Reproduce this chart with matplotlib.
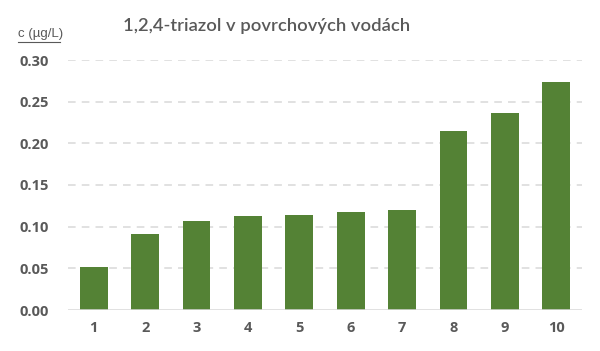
import numpy as np
import matplotlib
matplotlib.use('Agg')
import matplotlib.pyplot as plt

categories = ['1', '2', '3', '4', '5', '6', '7', '8', '9', '10']
values = [0.052, 0.091, 0.107, 0.113, 0.114, 0.118, 0.120, 0.215, 0.236, 0.274]
yticks = [0.00, 0.05, 0.10, 0.15, 0.20, 0.25, 0.30]

green = '#548235'
grey_text = '#595959'

fig = plt.figure(figsize=(6.0, 3.51), dpi=100)
ax = fig.add_axes([68 / 600, 1 - 310 / 351, (582 - 68) / 600, 250 / 351])

x = np.arange(len(categories))
ax.bar(x, values, width=0.54, color=green, zorder=3)

ax.set_xlim(-0.5, len(categories) - 0.5)
ax.set_ylim(0, 0.30)
ax.set_yticks(yticks)
ax.set_yticklabels([f'{v:.2f}' for v in yticks])
ax.set_xticks(x)
ax.set_xticklabels(categories)

for v in yticks[1:]:
    ax.axhline(v, color='#d9d9d9', linewidth=1.1, linestyle=(0, (5, 4)), zorder=1)
ax.axhline(0, color='#d9d9d9', linewidth=1.1, zorder=4)

for s in ax.spines.values():
    s.set_visible(False)
ax.tick_params(axis='both', length=0, colors=grey_text, labelsize=10.5)
ax.tick_params(axis='y', pad=14)
ax.tick_params(axis='x', pad=8)
for lbl in ax.get_xticklabels() + ax.get_yticklabels():
    lbl.set_fontweight('bold')
    lbl.set_fontfamily('Open Sans')

fig.text(267 / 600, 1 - 26 / 351, '1,2,4-triazol v povrchových vodách', ha='center', va='center',
         fontsize=13.2, color=grey_text, fontfamily='Lato', fontweight='semibold')
fig.text(18 / 600, 1 - 34 / 351, 'c (µg/L)', ha='left', va='center', fontsize=9.5,
         color=grey_text, fontfamily='Liberation Sans')
fig.add_artist(plt.Line2D([18 / 600, 60 / 600], [1 - 42 / 351, 1 - 42 / 351], color=grey_text, linewidth=0.8))

fig.savefig('out.png', dpi=100, facecolor='white')
